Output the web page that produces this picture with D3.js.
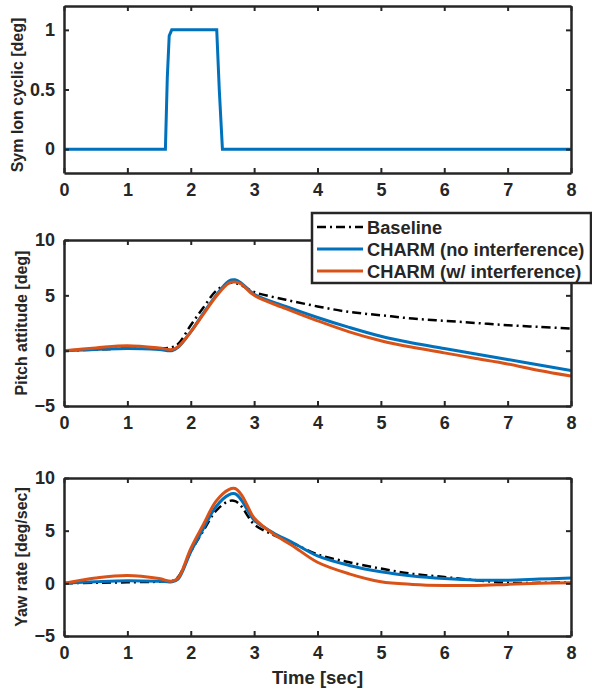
<!DOCTYPE html>
<html>
<head>
<meta charset="utf-8">
<script src="https://cdn.jsdelivr.net/npm/d3@7"></script>
<style>
  body { margin: 0; background: #fff; }
  svg text { font-family: "Liberation Sans", Arial, sans-serif; font-weight: bold; fill: #262626; }
</style>
</head>
<body>
<div id="chart"></div>
<script>
// time ticks shared by all panels
const timeTicks = [0, 1, 2, 3, 4, 5, 6, 7, 8];

// panel 1: symmetric longitudinal cyclic input
const cycT   = [0, 1.6, 1.63, 1.66, 1.7, 2.41, 2.45, 2.5, 8];
const cycVal = [0, 0, 0.6, 0.95, 1, 1, 0.5, 0, 0];

// panel 2: pitch attitude
const pitchT    = [0, 0.5, 1, 1.5, 1.7, 1.8, 2.0, 2.2, 2.4, 2.6, 2.7, 2.8, 3.0, 3.5, 4, 4.5, 5, 5.5, 6, 6.5, 7, 7.5, 8];
const pitchBase = [0, 0.1, 0.2, 0.2, 0.3, 0.6, 2.3, 3.9, 5.4, 6.1, 6.1, 5.9, 5.3, 4.6, 4.0, 3.5, 3.2, 2.9, 2.7, 2.5, 2.3, 2.15, 2.0];
const pitchNoI  = [0, 0.1, 0.2, 0.1, 0.0, 0.3, 1.7, 3.4, 5.0, 6.3, 6.4, 6.1, 5.1, 4.0, 3.0, 2.1, 1.3, 0.7, 0.2, -0.3, -0.8, -1.3, -1.8];
const pitchWI   = [0, 0.25, 0.45, 0.25, 0.1, 0.35, 1.7, 3.3, 4.9, 6.1, 6.2, 6.0, 5.0, 3.8, 2.7, 1.7, 0.9, 0.3, -0.2, -0.7, -1.2, -1.8, -2.3];

// panel 3: yaw rate
const yawT    = [0, 0.5, 1, 1.5, 1.7, 1.8, 2.0, 2.2, 2.4, 2.6, 2.7, 2.8, 2.9, 3.0, 3.3, 3.6, 4, 4.5, 5, 5.5, 6, 6.5, 7, 7.5, 8];
const yawBase = [0, 0.05, 0.1, 0.15, 0.2, 0.6, 3.0, 5.0, 6.9, 7.8, 7.8, 7.3, 6.4, 5.6, 4.6, 3.85, 2.75, 2.0, 1.4, 0.9, 0.6, 0.3, 0.05, 0.05, 0.1];
const yawNoI  = [0, 0.15, 0.25, 0.2, 0.15, 0.4, 3.0, 5.2, 7.3, 8.4, 8.5, 7.9, 6.9, 6.0, 4.8, 3.9, 2.6, 1.7, 1.1, 0.7, 0.45, 0.3, 0.3, 0.4, 0.5];
const yawWI   = [0, 0.5, 0.75, 0.45, 0.2, 0.5, 3.3, 5.6, 7.8, 8.9, 9.0, 8.4, 7.3, 6.2, 4.7, 3.6, 2.0, 0.9, 0.15, -0.1, -0.2, -0.2, -0.1, 0.0, 0.05];

const legendLabels = ["Baseline", "CHARM (no interference)", "CHARM (w/ interference)"];
const colors = ["#000000", "#0072BD", "#D95319"];

const width = 592, height = 690;
const left = 64, right = 571;

const svg = d3.select("#chart").append("svg")
    .attr("width", width)
    .attr("height", height);

const x = d3.scaleLinear().domain([0, 8]).range([left, right]);

const panels = [
  {top: 6, bottom: 173, domain: [-0.2, 1.2], ticks: [0, 0.5, 1], label: "Sym lon cyclic [deg]",
   series: [{t: cycT, v: cycVal, c: 1}]},
  {top: 240, bottom: 406, domain: [-5, 10], ticks: [-5, 0, 5, 10], label: "Pitch attitude [deg]",
   series: [{t: pitchT, v: pitchBase, c: 0}, {t: pitchT, v: pitchNoI, c: 1}, {t: pitchT, v: pitchWI, c: 2}]},
  {top: 478, bottom: 636, domain: [-5, 10], ticks: [-5, 0, 5, 10], label: "Yaw rate [deg/sec]",
   series: [{t: yawT, v: yawBase, c: 0}, {t: yawT, v: yawNoI, c: 1}, {t: yawT, v: yawWI, c: 2}]}
];

panels.forEach((p, i) => {
  const y = d3.scaleLinear().domain(p.domain).range([p.bottom, p.top]);
  const g = svg.append("g");

  g.append("clipPath").attr("id", "clip" + i)
    .append("rect").attr("x", left).attr("y", p.top)
    .attr("width", right - left).attr("height", p.bottom - p.top);

  // lines
  const plot = g.append("g").attr("clip-path", `url(#clip${i})`);
  p.series.forEach(s => {
    const pts = s.t.map((t, k) => [t, s.v[k]]);
    const line = d3.line()
        .x(d => x(d[0]))
        .y(d => y(d[1]))
        .curve(i === 0 ? d3.curveLinear : d3.curveCatmullRom);
    plot.append("path")
        .datum(pts)
        .attr("fill", "none")
        .attr("stroke", colors[s.c])
        .attr("stroke-width", s.c === 0 ? 2.5 : 3)
        .attr("stroke-dasharray", s.c === 0 ? "9,4,2,4" : null)
        .attr("d", line);
  });

  // axes (matlab box, ticks inward)
  const axB = g.append("g").attr("transform", `translate(0,${p.bottom})`)
      .call(d3.axisBottom(x).tickValues(timeTicks).tickSizeInner(-5).tickSizeOuter(0).tickPadding(10));
  g.append("g").attr("transform", `translate(0,${p.top})`)
      .call(d3.axisTop(x).tickValues(timeTicks).tickSizeInner(-5).tickSizeOuter(0).tickFormat(""));
  g.append("g").attr("transform", `translate(${left},0)`)
      .call(d3.axisLeft(y).tickValues(p.ticks).tickSizeInner(-5).tickSizeOuter(0).tickPadding(9)
        .tickFormat(d3.format("")));
  g.append("g").attr("transform", `translate(${right},0)`)
      .call(d3.axisRight(y).tickValues(p.ticks).tickSizeInner(-5).tickSizeOuter(0).tickFormat(""));

  g.selectAll(".domain").attr("stroke", "#262626").attr("stroke-width", 2.5);
  g.selectAll(".tick line").attr("stroke", "#262626").attr("stroke-width", 2);
  g.selectAll(".tick text").attr("font-size", 18).attr("font-family", null);
  axB.selectAll(".tick text").attr("dy", "0.72em");

  g.append("text")
      .attr("transform", `translate(${i === 0 ? 23 : 27},${i === 0 ? 95 : (p.top + p.bottom) / 2}) rotate(-90)`)
      .attr("text-anchor", "middle")
      .attr("font-size", 16)
      .text(p.label);
});

svg.append("text")
    .attr("x", (left + right) / 2)
    .attr("y", 684)
    .attr("text-anchor", "middle")
    .attr("font-size", 18.5)
    .text("Time [sec]");

// legend
const lg = svg.append("g");
lg.append("rect")
    .attr("x", 312).attr("y", 213)
    .attr("width", 279).attr("height", 70)
    .attr("fill", "#fff")
    .attr("stroke", "#262626")
    .attr("stroke-width", 2.5);
legendLabels.forEach((name, k) => {
  const yy = 227 + k * 22;
  lg.append("line")
      .attr("x1", 317).attr("x2", 363)
      .attr("y1", yy).attr("y2", yy)
      .attr("stroke", colors[k])
      .attr("stroke-width", k === 0 ? 2.5 : 3)
      .attr("stroke-dasharray", k === 0 ? "9,4,2,4" : null);
  lg.append("text")
      .attr("x", 367).attr("y", yy)
      .attr("dy", "0.36em")
      .attr("font-size", 18.3)
      .text(name);
});
</script>
</body>
</html>
